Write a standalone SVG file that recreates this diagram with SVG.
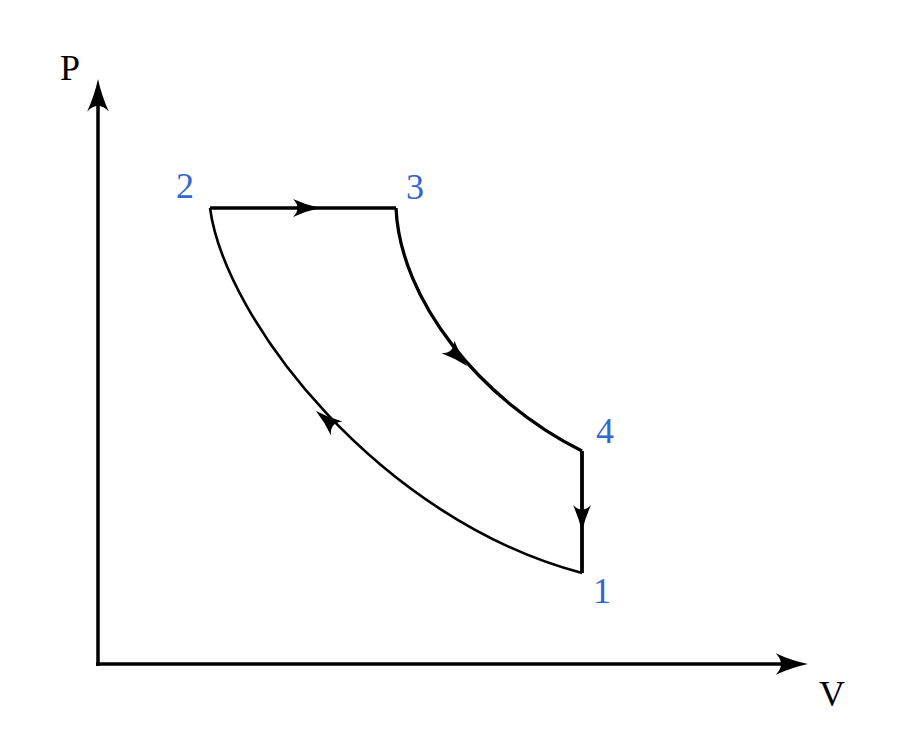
<svg xmlns="http://www.w3.org/2000/svg" xmlns:xlink="http://www.w3.org/1999/xlink" width="900" height="750" viewBox="0 0 900 750">
<style>
.ax{stroke:#000;stroke-width:3.5;fill:none}
.cy{stroke:#000;stroke-width:3.3;fill:none;stroke-linejoin:miter}
.ah{fill:#000;stroke:none}
.lab{font-family:"Liberation Serif","Times New Roman",serif;font-size:36px;fill:#000}
.pt{font-family:"Liberation Serif","Times New Roman",serif;font-size:36px;fill:#3366cc}
</style>
<defs>
<path id="head" d="M0,0 Q-14,-3 -27,-9 Q-18,0 -27,9 Q-14,3 0,0 Z"/>
</defs>
<rect width="900" height="750" fill="#fff"/>
<g id="axes">
<line class="ax" x1="98" y1="666" x2="98" y2="100"/>
<line class="ax" x1="96" y1="664" x2="790" y2="664"/>
<use href="#head" class="ah" transform="translate(98,79) rotate(-90) scale(1.2)"/>
<use href="#head" class="ah" transform="translate(808,664) scale(1.2)"/>
<text class="lab" x="60" y="80">P</text>
<text class="lab" x="819" y="706">V</text>
</g>
<g id="connectors">
<path class="cy" d="M210,208 L396,208"/>
<path class="cy" d="M396,208 C400,300 480,400 582,451"/>
<path class="cy" style="stroke-width:3.8" d="M582,451 L582,573"/>
<path class="cy" style="stroke-width:2.6" d="M582,573 C380,520 225,320 210,208"/>
<use href="#head" class="ah" transform="translate(320,208)"/>
<use href="#head" class="ah" transform="translate(467,366) rotate(45)"/>
<use href="#head" class="ah" transform="translate(582,532) rotate(90)"/>
<use href="#head" class="ah" transform="translate(316,411) rotate(-140)"/>
</g>
<g id="p2"><text class="pt" x="176" y="198">2</text></g>
<g id="p3"><text class="pt" x="406" y="199">3</text></g>
<g id="p4"><text class="pt" x="596" y="443">4</text></g>
<g id="p1"><text class="pt" x="593" y="603">1</text></g>
</svg>
